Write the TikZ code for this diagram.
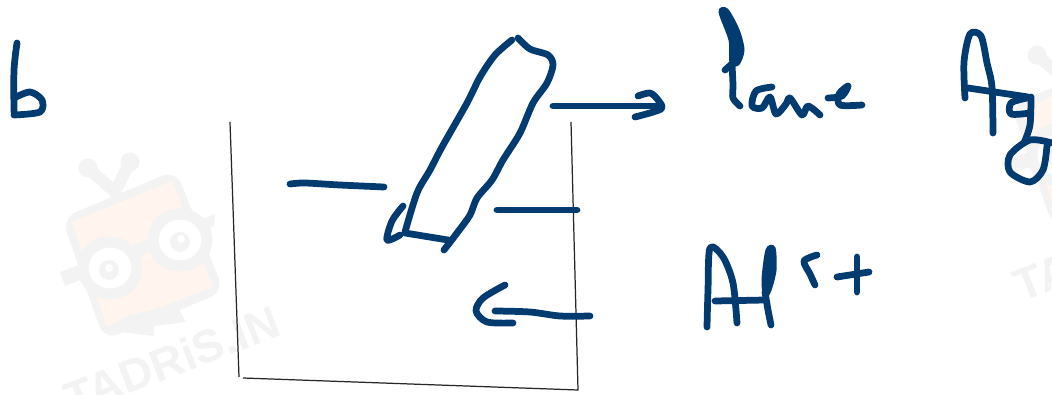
\documentclass[tikz,border=0pt]{standalone}
\usepackage{fontspec}
\setsansfont{Liberation Sans}
\definecolor{inkblue}{HTML}{023B70}
\definecolor{markgray}{HTML}{F3F3F3}
\definecolor{markpeach}{HTML}{FFF5EE}
\tikzset{
	inkline/.style={color=inkblue, line width=0.135cm, line cap=round, line join=round},
	inkfill/.style={fill=inkblue, draw=inkblue, line width=0.06cm, line join=round},
	beaker/.style={color=black!85, line width=0.7pt},
	markline/.style={color=markgray, line width=0.24cm, line cap=round},
	pics/tadrismark/.style={code={
		\fill[markgray, rounded corners=0.3cm] (62,218) -- (176,170) -- (224,292) -- (104,340) -- cycle;
		\fill[markpeach] (72,222) -- (172,181) -- (213,287) -- (107,327) -- cycle;
		\draw[markline] (88,168) -- (115,192) -- (130,162);
		\fill[markgray] (88,168) circle (9.5);
		\fill[markgray] (130,162) circle (9.5);
		\fill[markgray] (60,272) -- (215,214) -- (214,226) -- (65,286) -- cycle;
		\fill[markgray] (103,330) -- (128,316) -- (176,304) -- (186,322) -- (154,326) -- (154,336) -- cycle;
		\fill[white, draw=markgray, line width=0.22cm] (110,268) ellipse [x radius=27, y radius=26];
		\fill[white, draw=markgray, line width=0.22cm] (180,240) ellipse [x radius=27, y radius=26];
		\fill[markgray] (109,270) circle (10);
		\fill[markgray] (180,242) circle (10);
		\fill[white] (109,268) circle (4);
		\fill[white] (181,239) circle (4);
		\node[rotate=21, color=markgray, font=\sffamily\bfseries\fontsize{26}{26}\selectfont] (marktext) at (172,360) {TADRiS.IN};
	}}
}
\begin{document}
\begin{tikzpicture}[x=0.02cm, y=-0.02cm]
	\useasboundingbox (0, 0) rectangle (1052, 395);
	\clip (0, 0) rectangle (1052, 395);
	\fill[white] (0, 0) rectangle (1052, 395);
	\pic {tadrismark};
	\pic at (949, -113) {tadrismark};
	\draw[beaker] (230, 122) -- (239, 377);
	\draw[beaker] (243, 378) -- (578, 390) -- (571, 122);
	\draw[inkline] plot[smooth] coordinates {(512,40) (495,55) (480,77) (467,103) (442,147) (430,170) (417,193) (405,232)};
	\draw[inkline] (405, 233) -- (448, 240);
	\draw[inkline] plot[smooth] coordinates {(403,206) (392,221) (387,240) (400,235)};
	\draw[inkline] plot[smooth] coordinates {(518,38) (530,49) (548,55) (553,65) (547,83) (533,103) (520,133) (503,160) (492,180) (477,198) (470,215) (457,233) (444,250)};
	\draw[inkline] (553, 106) -- (657, 106);
	\draw[inkline] plot[smooth] coordinates {(638,96) (650,93) (658,100) (661,109) (635,117)};
	\draw[inkline] plot[smooth] coordinates {(290,184) (305,183) (340,185) (384,187)};
	\draw[inkline] (497, 210) -- (577, 210);
	\draw[inkline] plot[smooth] coordinates {(495,311) (530,312) (560,316) (590,316)};
	\draw[inkline] plot[smooth] coordinates {(505,285) (483,298) (476,311) (487,322) (513,323)};
	\draw[inkline] plot[smooth] coordinates {(17,43) (14,70) (14,112)};
	\draw[inkline] plot[smooth] coordinates {(14,98) (30,92) (42,100) (40,112) (14,115)};
	\fill[inkfill] plot[smooth cycle] coordinates {(720,12) (727,10) (738,30) (743,50) (738,64) (731,62) (730,40)};
	\draw[inkline] (725, 70) -- (733, 63);
	\draw[inkline] plot[smooth] coordinates {(732,64) (733,85) (733,98) (740,106)};
	\draw[inkline] plot[smooth] coordinates {(772,87) (756,91) (752,106) (762,108) (770,97) (776,114) (786,104) (790,98) (802,115) (808,106) (820,115)};
	\draw[inkline] plot[smooth] coordinates {(828,98) (842,96) (848,86) (839,94) (840,105) (862,105)};
	\draw[inkline] plot[smooth] coordinates {(965,98) (964,62) (970,34) (981,36) (987,63) (992,87) (993,133)};
	\draw[inkline] (968, 88) -- (1028, 97);
	\draw[inkline] plot[smooth] coordinates {(1027,98) (1011,103) (1011,114) (1030,113)};
	\draw[inkline] plot[smooth] coordinates {(1031,97) (1030,125) (1024,143)};
	\draw[inkline] plot[smooth] coordinates {(1052,143) (1030,140) (1010,155) (1010,172) (1030,182) (1043,170) (1047,146)};
	\draw[inkline] plot[smooth] coordinates {(707,327) (708,290) (710,248) (723,257) (733,283) (737,323)};
	\draw[inkline] (715, 301) -- (765, 300);
	\fill[inkfill] plot[smooth cycle] coordinates {(767,250) (774,248) (775,270) (770,290) (765,297) (763,280)};
	\draw[inkline] plot[smooth] coordinates {(765,292) (768,310) (771,325)};
	\draw[inkline] plot[smooth] coordinates {(817,255) (804,261) (810,274) (815,285)};
	\draw[inkline] (837, 277) -- (869, 272);
	\draw[inkline] (857, 257) -- (857, 292);
\end{tikzpicture}
\end{document}
